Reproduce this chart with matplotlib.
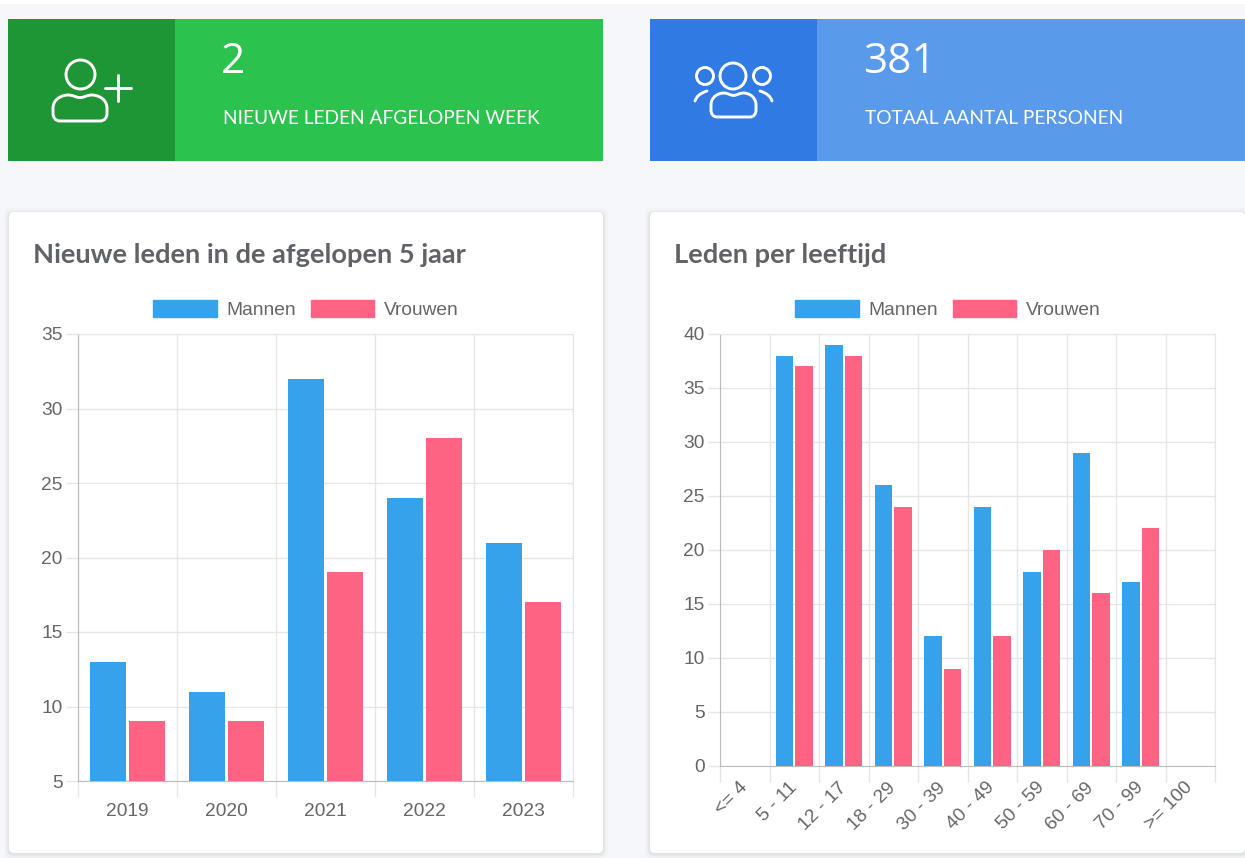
import matplotlib
matplotlib.use("Agg")
import matplotlib.pyplot as plt
from matplotlib.patches import Circle, FancyBboxPatch, PathPatch, Rectangle
from matplotlib.path import Path
from matplotlib.transforms import Affine2D

W, H = 1245, 858

# ── Data ──────────────────────────────────────────────────────────────────────
YEARS = ["2019", "2020", "2021", "2022", "2023"]
YEAR_MEN = [13, 11, 32, 24, 21]
YEAR_WOMEN = [9, 9, 19, 28, 17]

AGES = ["<= 4", "5 - 11", "12 - 17", "18 - 29", "30 - 39",
        "40 - 49", "50 - 59", "60 - 69", "70 - 99", ">= 100"]
AGE_MEN = [0, 38, 39, 26, 12, 24, 18, 29, 17, 0]
AGE_WOMEN = [0, 37, 38, 24, 9, 12, 20, 16, 22, 0]

SERIES = ["Mannen", "Vrouwen"]
BLUE = "#36a2eb"
PINK = "#ff6384"
TEXT = "#666666"
TITLE = "#5f6266"
GRID = "#e6e6e6"
AXIS = "#bcbcbc"
HEAD_FONT = "Lato"

plt.rcParams["font.family"] = ["Liberation Sans", "DejaVu Sans"]

fig = plt.figure(figsize=(W / 100, H / 100), dpi=100, facecolor="#f5f7fb")


def px_axes(left, top, right, bottom, **kw):
    return fig.add_axes([left / W, 1 - bottom / H, (right - left) / W, (bottom - top) / H], **kw)


# Overlay in pixel coordinates for the cards, icons and headings
bg = px_axes(0, 0, W, H)
bg.set_xlim(0, W)
bg.set_ylim(H, 0)
bg.axis("off")
bg.add_patch(Rectangle((0, 0), W, 4, color="white", lw=0))

# ── Stat tiles ────────────────────────────────────────────────────────────────
bg.add_patch(Rectangle((8, 19), 595, 142, color="#2cc24e", lw=0))
bg.add_patch(Rectangle((8, 19), 167, 142, color="#1f9635", lw=0))
bg.add_patch(Rectangle((650, 19), 595, 142, color="#5a9aea", lw=0))
bg.add_patch(Rectangle((650, 19), 167, 142, color="#2f7ae3", lw=0))

for x, big, small in [(222, "2", "NIEUWE LEDEN AFGELOPEN WEEK"),
                      (864, "381", "TOTAAL AANTAL PERSONEN")]:
    bg.text(x - 1, 62, big, color="white", fontsize=30.5, family="Open Sans", va="center")
    bg.text(x + 1, 118, small, color="white", fontsize=13.8, family=HEAD_FONT, va="center")


def person_body(x0, x1, y0, y1):
    """Rounded torso outline used by both icons."""
    w, h = x1 - x0, y1 - y0
    mid = (x0 + x1) / 2
    verts = [
        (x0 + 0.14 * w, y1),
        (x1 - 0.14 * w, y1),
        (x1 - 0.04 * w, y1), (x1, y1 - 0.14 * h), (x1, y1 - 0.3 * h),
        (x1, y0 + 0.5 * h),
        (x1, y0 + 0.18 * h), (x1 - 0.15 * w, y0), (x1 - 0.28 * w, y0),
        (x1 - 0.38 * w, y0), (mid + 0.08 * w, y0 + 0.1 * h), (mid, y0 + 0.1 * h),
        (mid - 0.08 * w, y0 + 0.1 * h), (x0 + 0.38 * w, y0), (x0 + 0.28 * w, y0),
        (x0 + 0.15 * w, y0), (x0, y0 + 0.18 * h), (x0, y0 + 0.5 * h),
        (x0, y1 - 0.3 * h),
        (x0, y1 - 0.14 * h), (x0 + 0.04 * w, y1), (x0 + 0.14 * w, y1),
    ]
    codes = [Path.MOVETO, Path.LINETO,
             Path.CURVE4, Path.CURVE4, Path.CURVE4,
             Path.LINETO,
             Path.CURVE4, Path.CURVE4, Path.CURVE4,
             Path.CURVE4, Path.CURVE4, Path.CURVE4,
             Path.CURVE4, Path.CURVE4, Path.CURVE4,
             Path.CURVE4, Path.CURVE4, Path.CURVE4,
             Path.LINETO,
             Path.CURVE4, Path.CURVE4, Path.CURVE4]
    return Path(verts, codes)


icon = dict(fill=False, ec="white", lw=2.1)

# single person with plus
bg.add_patch(Circle((80.5, 74.5), 14.5, **icon))
bg.add_patch(PathPatch(person_body(53, 107, 95, 121), **icon))
bg.plot([105, 131], [88, 88], color="white", lw=2.1, solid_capstyle="round")
bg.plot([118, 118], [75, 101], color="white", lw=2.1, solid_capstyle="round")

# group of three
bg.add_patch(Circle((733, 76), 13, **icon))
bg.add_patch(Circle((705, 76), 8.5, **icon))
bg.add_patch(Circle((762, 76), 8.5, **icon))
bg.add_patch(PathPatch(person_body(711, 756, 93, 117), **icon))
for xs, xm, xe in [(695, 697, 707), (772, 770, 760)]:
    bg.add_patch(PathPatch(Path([(xs, 101), (xm, 94), (xe, 91)],
                                [Path.MOVETO, Path.CURVE3, Path.CURVE3]),
                           capstyle="round", **icon))

# ── Chart cards ───────────────────────────────────────────────────────────────
for x0, x1, heading in [(9, 603, "Nieuwe leden in de afgelopen 5 jaar"),
                        (650, 1245, "Leden per leeftijd")]:
    for grow, alpha in [(5, 0.015), (3, 0.025), (1.5, 0.04)]:
        bg.add_patch(FancyBboxPatch((x0 - grow, 212 - grow + 1), x1 - x0 + 2 * grow, 641 + 2 * grow,
                                    boxstyle="round,pad=0,rounding_size=6",
                                    fc="black", ec="none", alpha=alpha))
    bg.add_patch(FancyBboxPatch((x0, 212), x1 - x0, 641,
                                boxstyle="round,pad=0,rounding_size=5", fc="white", ec="none"))
    bg.text(x0 + 24, 255, heading, color=TITLE, fontsize=19.6, family=HEAD_FONT,
            fontweight="bold", va="center")


# ── Charts ────────────────────────────────────────────────────────────────────
def bar_chart(box, cats, men, women, ylim, yticks, width, offset, rotate):
    ax = px_axes(*box)
    ax.patch.set_alpha(0)
    xs = range(len(cats))
    ax.bar([x - offset for x in xs], men, width, color=BLUE, label=SERIES[0], zorder=3)
    ax.bar([x + offset for x in xs], women, width, color=PINK, label=SERIES[1], zorder=3)
    ax.set_xlim(-0.5, len(cats) - 0.5)
    ax.set_ylim(*ylim)
    ax.set_yticks(yticks)

    # grid lines sit on the category edges, labels on the centres
    edges = [i - 0.5 for i in range(len(cats) + 1)]
    ax.set_xticks(edges)
    ax.set_xticklabels([])
    ax.set_xticks(list(xs), minor=True)
    if rotate:
        ax.set_xticklabels(cats, minor=True, rotation=45, ha="right", rotation_mode="anchor")
    else:
        ax.set_xticklabels(cats, minor=True)
    ax.tick_params(axis="x", which="major", length=11.5, width=1, color=GRID)
    ax.tick_params(axis="x", which="minor", length=0, pad=15.5 if not rotate else 8,
                   labelsize=13.8, labelcolor=TEXT)
    ax.tick_params(axis="y", length=8.6, width=1, color=GRID, labelsize=13.8,
                   labelcolor=TEXT, pad=2.5)
    if rotate:
        for label in ax.get_xticklabels(minor=True):
            label.set_transform(label.get_transform() + Affine2D().translate(-6, -2))
    ax.grid(True, which="major", color=GRID, lw=1, zorder=0)
    ax.set_axisbelow(True)
    for side in ["top", "right"]:
        ax.spines[side].set_color(GRID)
    for side in ["left", "bottom"]:
        ax.spines[side].set_color(AXIS)
    handles = [Rectangle((0, 0), 1, 1, color=BLUE), Rectangle((0, 0), 1, 1, color=PINK)]
    ax.legend(handles, SERIES, loc="lower center", bbox_to_anchor=(0.4605, 1.0), ncol=2,
              frameon=False, fontsize=13.8, labelcolor=TEXT, handlelength=3.3,
              handleheight=1.0, handletextpad=0.5, columnspacing=0.8, borderaxespad=0.38)
    return ax


bar_chart((78, 334, 573, 781), YEARS, YEAR_MEN, YEAR_WOMEN, (5, 35), range(5, 36, 5),
          0.37, 0.197, False)
bar_chart((720, 334, 1215, 766), AGES, AGE_MEN, AGE_WOMEN, (0, 40), range(0, 41, 5),
          0.355, 0.2, True)

fig.savefig("out.png", dpi=100, facecolor=fig.get_facecolor())
plt.close(fig)
